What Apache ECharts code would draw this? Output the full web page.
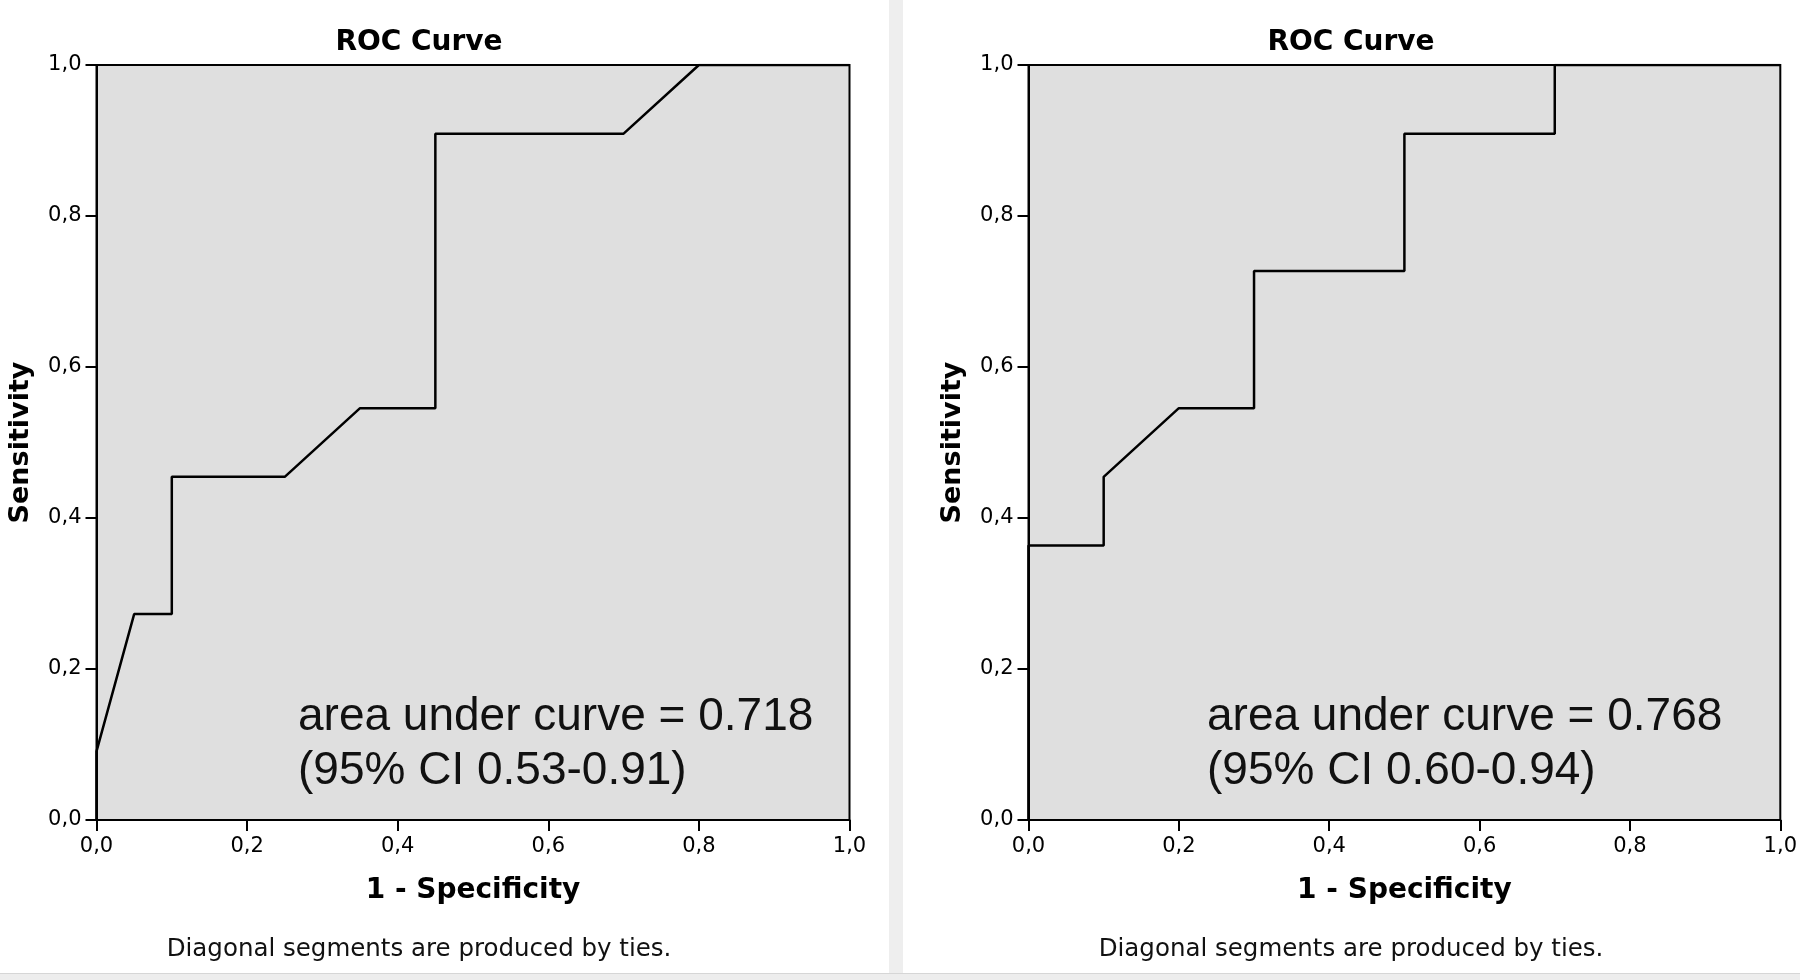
<!DOCTYPE html>
<html>
<head>
<meta charset="utf-8">
<script src="https://cdn.jsdelivr.net/npm/echarts@6/dist/echarts.min.js"></script>
<style>
html,body{margin:0;padding:0;background:#fff;}
#chart{width:1800px;height:980px;}
</style>
</head>
<body>
<div id="chart"></div>
<script>
// ---- data ----
var panelTitles = ['ROC Curve', 'ROC Curve'];
var xAxisTitle = '1 - Specificity';
var yAxisTitle = 'Sensitivity';
var footnote = 'Diagonal segments are produced by ties.';
var tickLabels = ['0,0', '0,2', '0,4', '0,6', '0,8', '1,0'];

// left panel: 1 - specificity / sensitivity
var leftFPR = [0.00, 0.00, 0.05, 0.10, 0.10, 0.25, 0.35, 0.45, 0.45, 0.70, 0.80, 1.00];
var leftTPR = [0.000, 0.0909, 0.2727, 0.2727, 0.4545, 0.4545, 0.5455, 0.5455, 0.9091, 0.9091, 1.000, 1.000];
var leftNote = ['area under curve = 0.718', '(95% CI 0.53-0.91)'];

// right panel
var rightFPR = [0.00, 0.00, 0.10, 0.10, 0.20, 0.30, 0.30, 0.50, 0.50, 0.70, 0.70, 1.00];
var rightTPR = [0.000, 0.3636, 0.3636, 0.4545, 0.5455, 0.5455, 0.7273, 0.7273, 0.9091, 0.9091, 1.000, 1.000];
var rightNote = ['area under curve = 0.768', '(95% CI 0.60-0.94)'];

// ---- build ----
function pairs(xs, ys) { return xs.map(function (x, i) { return [x, ys[i]]; }); }
function tickFmt(v) { var i = Math.round(v * 5); return tickLabels[i] !== undefined ? tickLabels[i] : ''; }

var FONT = 'DejaVu Sans, Verdana, sans-serif';
var gridTop = 65, gridH = 755, gridW = 753;
var gridLefts = [96.5, 1028.5];
var centers = [419, 1351];
var noteX = [298, 1207];

function xAxisDef(idx) {
  return {
    type: 'value', gridIndex: idx, min: 0, max: 1, interval: 0.2,
    name: xAxisTitle, nameLocation: 'middle', nameGap: 57,
    nameTextStyle: { fontFamily: FONT, fontWeight: 'bold', fontSize: 28, color: '#000' },
    axisLine: { show: true, onZero: false, lineStyle: { color: '#000', width: 2 } },
    axisTick: { show: true, inside: false, length: 11, lineStyle: { color: '#000', width: 2 } },
    axisLabel: { formatter: tickFmt, margin: 16, fontFamily: FONT, fontSize: 21, color: '#000' },
    splitLine: { show: false }
  };
}
function yAxisDef(idx) {
  return {
    type: 'value', gridIndex: idx, min: 0, max: 1, interval: 0.2,
    name: yAxisTitle, nameLocation: 'middle', nameGap: 62,
    nameTextStyle: { fontFamily: FONT, fontWeight: 'bold', fontSize: 27, color: '#000' },
    axisLine: { show: true, onZero: false, lineStyle: { color: '#000', width: 2 } },
    axisTick: { show: true, inside: false, length: 11, lineStyle: { color: '#000', width: 2 } },
    axisLabel: { formatter: tickFmt, margin: 15, fontFamily: FONT, fontSize: 21, color: '#000' },
    splitLine: { show: false }
  };
}
function seriesDef(idx, xs, ys) {
  return {
    type: 'line', xAxisIndex: idx, yAxisIndex: idx,
    data: pairs(xs, ys), showSymbol: false, symbol: 'none',
    lineStyle: { color: '#000', width: 2.5 }, silent: true, animation: false, z: 3
  };
}

var graphics = [
  { type: 'rect', shape: { x: 889, y: 0, width: 14, height: 974 }, style: { fill: '#eeeeee' }, silent: true },
  { type: 'rect', shape: { x: 0, y: 974, width: 1800, height: 6 }, style: { fill: '#ededed' }, silent: true },
  { type: 'rect', shape: { x: 0, y: 973, width: 1800, height: 1 }, style: { fill: '#d6d6d6' }, silent: true }
];
[0, 1].forEach(function (i) {
  graphics.push({ type: 'text', x: centers[i], y: 42.5, z: 10,
    style: { text: panelTitles[i], fontFamily: FONT, fontWeight: 'bold', fontSize: 28, fill: '#000', align: 'center', verticalAlign: 'middle' } });
  graphics.push({ type: 'text', x: centers[i], y: 950, z: 10,
    style: { text: footnote, fontFamily: FONT, fontSize: 24.5, fill: '#111', align: 'center', verticalAlign: 'middle' } });
  var note = i === 0 ? leftNote : rightNote;
  graphics.push({ type: 'text', x: noteX[i], y: 717.5, z: 10,
    style: { text: note[0], fontFamily: 'Liberation Sans, Arial, sans-serif', fontSize: 46, fill: '#111', align: 'left', verticalAlign: 'middle' } });
  graphics.push({ type: 'text', x: noteX[i], y: 771, z: 10,
    style: { text: note[1], fontFamily: 'Liberation Sans, Arial, sans-serif', fontSize: 46, fill: '#111', align: 'left', verticalAlign: 'middle' } });
});

var chart = echarts.init(document.getElementById('chart'), null, { renderer: 'canvas' });
chart.setOption({
  animation: false,
  backgroundColor: '#ffffff',
  grid: gridLefts.map(function (l) {
    return { left: l, top: gridTop, width: gridW, height: gridH, show: true,
      backgroundColor: '#dfdfdf', borderColor: '#000', borderWidth: 2, containLabel: false };
  }),
  xAxis: [xAxisDef(0), xAxisDef(1)],
  yAxis: [yAxisDef(0), yAxisDef(1)],
  series: [seriesDef(0, leftFPR, leftTPR), seriesDef(1, rightFPR, rightTPR)],
  graphic: graphics
});
</script>
</body>
</html>
